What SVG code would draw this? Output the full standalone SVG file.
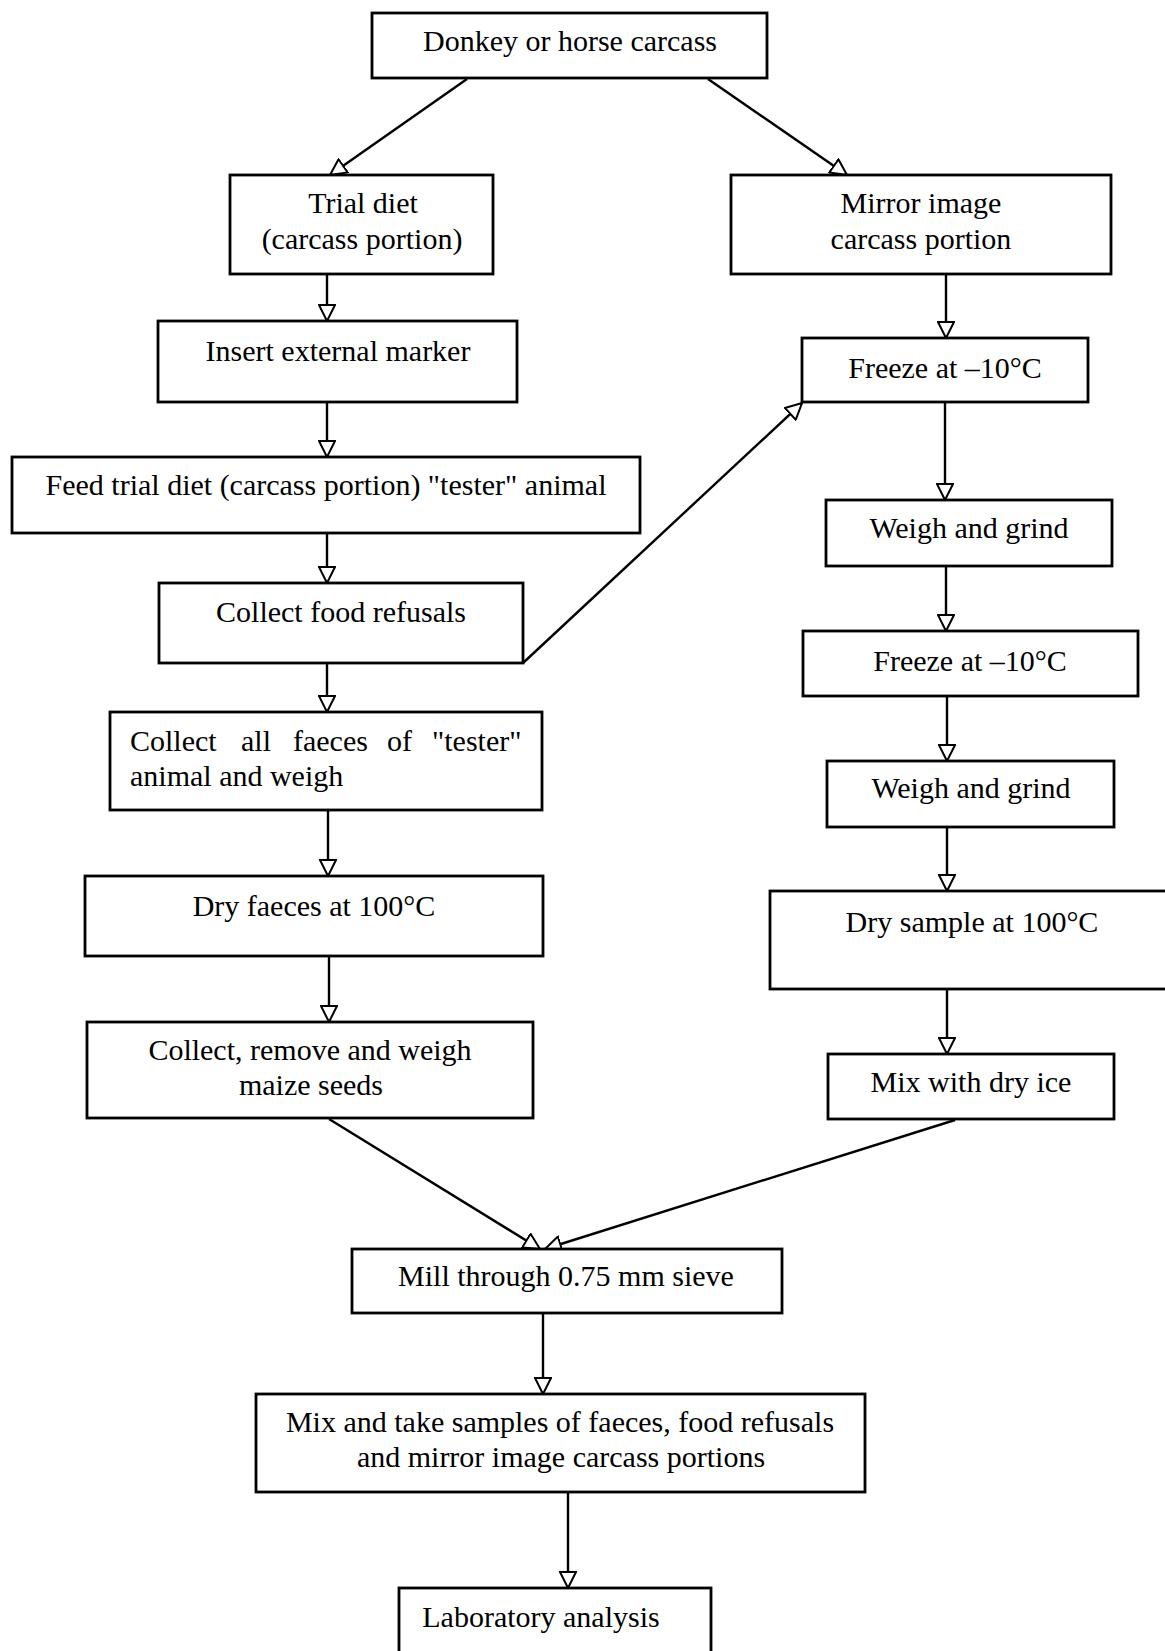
<svg xmlns="http://www.w3.org/2000/svg" width="1165" height="1651" viewBox="0 0 1165 1651">
<style>
.box{fill:#fff;stroke:#000;stroke-width:2.8}
.t{font-family:"Liberation Serif","Times New Roman",serif;font-size:30px;fill:#000;text-anchor:middle}
.ts{font-family:"Liberation Serif","Times New Roman",serif;font-size:30px;fill:#000}
.c{fill:none;stroke:#000;stroke-width:2.4;marker-end:url(#ah)}
</style>
<defs>
<marker id="ah" viewBox="0 0 18 18" refX="17" refY="9" markerWidth="18" markerHeight="18" markerUnits="userSpaceOnUse" orient="auto">
<path d="M1,1 L17,9 L1,17 Z" fill="#fff" stroke="#000" stroke-width="2" stroke-linejoin="miter"/>
</marker>
</defs>
<rect width="1165" height="1651" fill="#fff"/>
<g id="connectors">
<line class="c" x1="467" y1="79" x2="330" y2="175"/>
<line class="c" x1="708" y1="79" x2="847" y2="175"/>
<line class="c" x1="327" y1="274" x2="327" y2="321"/>
<line class="c" x1="327" y1="402" x2="327" y2="457"/>
<line class="c" x1="327" y1="533" x2="327" y2="583"/>
<line class="c" x1="327" y1="663" x2="327" y2="712"/>
<line class="c" x1="328" y1="792" x2="328" y2="876"/>
<line class="c" x1="329" y1="956" x2="329" y2="1022"/>
<line class="c" x1="329" y1="1119" x2="540" y2="1249"/>
<line class="c" x1="955" y1="1120" x2="545" y2="1249"/>
<line class="c" x1="543" y1="1297" x2="543" y2="1394"/>
<line class="c" x1="568" y1="1492" x2="568" y2="1588"/>
<line class="c" x1="523" y1="663" x2="802" y2="403"/>
<line class="c" x1="946" y1="274" x2="946" y2="338"/>
<line class="c" x1="945" y1="402" x2="945" y2="500"/>
<line class="c" x1="946" y1="566" x2="946" y2="631"/>
<line class="c" x1="947" y1="696" x2="947" y2="761"/>
<line class="c" x1="947" y1="827" x2="947" y2="891"/>
<line class="c" x1="947" y1="989" x2="947" y2="1054"/>
</g>
<g id="n-donkey"><rect class="box" x="372" y="13" width="395" height="65"/><text class="t" x="570" y="51">Donkey or horse carcass</text></g>
<g id="n-trial"><rect class="box" x="230" y="175" width="263" height="99"/><text class="t" x="363" y="213">Trial diet</text><text class="t" x="362" y="249">(carcass portion)</text></g>
<g id="n-mirror"><rect class="box" x="731" y="175" width="380" height="99"/><text class="t" x="921" y="213">Mirror image</text><text class="t" x="921" y="249">carcass portion</text></g>
<g id="n-insert"><rect class="box" x="158" y="321" width="359" height="81"/><text class="t" x="338" y="361">Insert external marker</text></g>
<g id="n-feed"><rect class="box" x="12" y="457" width="628" height="76"/><text class="t" x="326" y="495">Feed trial diet (carcass portion) "tester" animal</text></g>
<g id="n-refusals"><rect class="box" x="159" y="583" width="364" height="80"/><text class="t" x="341" y="622">Collect food refusals</text></g>
<g id="n-faeces"><rect class="box" x="110" y="712" width="432" height="98"/><text class="ts" y="751"><tspan x="130">Collect</tspan><tspan x="241">all</tspan><tspan x="293">faeces</tspan><tspan x="387">of</tspan><tspan x="432">"tester"</tspan></text><text class="ts" x="130" y="786">animal and weigh</text></g>
<g id="n-dryfaeces"><rect class="box" x="85" y="876" width="458" height="80"/><text class="t" x="314" y="916">Dry faeces at 100°C</text></g>
<g id="n-maize"><rect class="box" x="87" y="1022" width="446" height="96"/><text class="t" x="310" y="1060">Collect, remove and weigh</text><text class="t" x="311" y="1095">maize seeds</text></g>
<g id="n-mill"><rect class="box" x="352" y="1249" width="430" height="64"/><text class="t" x="566" y="1286">Mill through 0.75 mm sieve</text></g>
<g id="n-mix"><rect class="box" x="256" y="1394" width="609" height="98"/><text class="t" x="560" y="1432">Mix and take samples of faeces, food refusals</text><text class="t" x="561" y="1467">and mirror image carcass portions</text></g>
<g id="n-lab"><rect class="box" x="399" y="1588" width="312" height="80"/><text class="t" x="541" y="1627">Laboratory analysis</text></g>
<g id="n-freeze1"><rect class="box" x="802" y="338" width="286" height="64"/><text class="t" x="945" y="378">Freeze at –10°C</text></g>
<g id="n-weigh1"><rect class="box" x="826" y="500" width="286" height="66"/><text class="t" x="969" y="538">Weigh and grind</text></g>
<g id="n-freeze2"><rect class="box" x="803" y="631" width="335" height="65"/><text class="t" x="970" y="671">Freeze at –10°C</text></g>
<g id="n-weigh2"><rect class="box" x="827" y="761" width="287" height="66"/><text class="t" x="971" y="798">Weigh and grind</text></g>
<g id="n-drysample"><rect class="box" x="770" y="891" width="410" height="98"/><text class="t" x="972" y="932">Dry sample at 100°C</text></g>
<g id="n-dryice"><rect class="box" x="828" y="1054" width="286" height="65"/><text class="t" x="971" y="1092">Mix with dry ice</text></g>
</svg>
